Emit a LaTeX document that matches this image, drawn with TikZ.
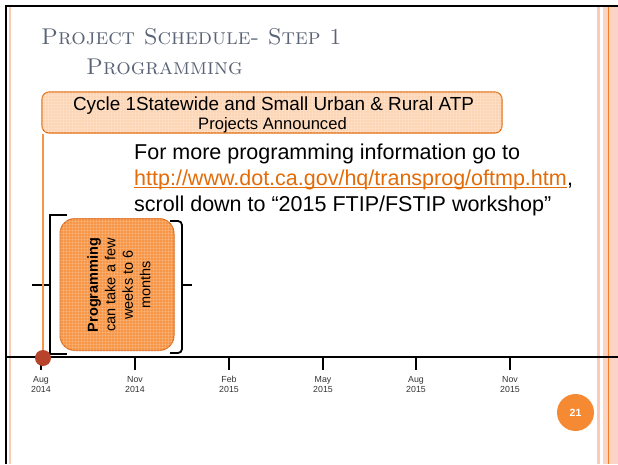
\documentclass[tikz,border=0pt]{standalone}
\usepackage{fontspec}
\newfontfamily\arial{Liberation Sans}
\usetikzlibrary{patterns}
\definecolor{peach}{HTML}{FCD5B5}
\definecolor{bordc}{HTML}{E26B0A}
\definecolor{progfill}{HTML}{F79646}
\definecolor{progbord}{HTML}{D9691C}
\definecolor{linkc}{HTML}{E36C09}
\definecolor{dotc}{HTML}{B8432B}
\definecolor{pagec}{HTML}{F68A33}
\definecolor{pinkA}{HTML}{FBC9B8}
\definecolor{pinkB}{HTML}{FDD3C4}
\definecolor{orline}{HTML}{F47B2A}
\definecolor{titlec}{HTML}{5A6475}
\definecolor{labc}{HTML}{333333}
\tikzset{
  titletext/.style={anchor=base west, inner sep=0, text=titlec, font=\fontsize{22.8}{28}\selectfont\scshape},
  bodytext/.style={anchor=base west, inner sep=0, font=\arial\fontsize{21.5}{26}\selectfont},
  bracketline/.style={line width=1.8, black},
  ticklab/.style={anchor=base, inner sep=0, text=labc, font=\arial\fontsize{8.8}{10}\selectfont},
  gridtex/.style={pattern=grid, pattern color=white, opacity=0.15},
}
\begin{document}
\begin{tikzpicture}[x=1pt,y=-1pt]
\useasboundingbox (0,0) rectangle (618,464);
\fill[white] (0,0) rectangle (618,464);
% right decorative band
\fill[pinkA] (597,7) rectangle (600,464);
\fill[pinkB] (603,7) rectangle (618,464);
\draw[orline, line width=1.2] (608.3,7) -- (608.3,464);
% left pink line
\fill[pinkA] (8.5,7) rectangle (11,464);
% black frame
\draw[line width=2.5] (5.75,464) -- (5.75,6) -- (618,6);
% title
\node[titletext] (t1) at (41,44) {Project Schedule- Step 1};
\node[titletext] (t2) at (86,74) {Programming};
% banner
\node[draw=bordc, fill=peach, line width=1.1, rounded corners=7, minimum width=460pt, minimum height=41pt, inner sep=0] (ban) at (272,112.5) {};
\fill[gridtex, rounded corners=7] (ban.south west) rectangle (ban.north east);
\node[anchor=base, inner sep=0, font=\arial\fontsize{18.9}{20}\selectfont] (b1) at (273.5,110) {Cycle 1Statewide and Small Urban \& Rural ATP};
\node[anchor=base, inner sep=0, font=\arial\fontsize{16.6}{18}\selectfont] (b2) at (272.5,129) {Projects Announced};
% body text
\node[bodytext] (l1) at (134,159) {For more programming information go to};
\node[bodytext, text=linkc] (url) at (134,185) {http://www.dot.ca.gov/hq/transprog/oftmp.htm};
\node[bodytext] (comma) at (url.base east) {,};
\draw[linkc, line width=1.1] ([yshift=-2.2pt]url.base west) -- ([yshift=-2.2pt]url.base east);
\node[bodytext] (l3) at (134,211) {scroll down to “2015 FTIP/FSTIP workshop”};
% timeline
\coordinate (tlA) at (5,357);
\coordinate (tlB) at (618,357);
\draw[line width=2] (tlA) -- (tlB);
\foreach \x/\m/\yr [count=\i] in {41/Aug/2014, 135/Nov/2014, 229/Feb/2015, 323/May/2015, 416/Aug/2015, 510/Nov/2015}{
  \coordinate (tk\i) at (\x,357);
  \draw[line width=2] (tk\i) -- ++(0,13);
  \node[ticklab] (m\i) at (\x,382) {\m};
  \node[ticklab] (y\i) at (\x,392) {\yr};
}
% brackets
\coordinate (lbA) at (67,215); \coordinate (lbB) at (50,215);
\coordinate (lbC) at (50,354); \coordinate (lbD) at (67,354);
\draw[bracketline] (lbA) -- (lbB) -- (lbC) -- (lbD);
\coordinate (lt1) at (32,285); \coordinate (lt2) at (50,285);
\draw[bracketline] (lt1) -- (lt2);
\coordinate (rbA) at (170,221); \coordinate (rbB) at (182,221);
\coordinate (rbC) at (182,353); \coordinate (rbD) at (170,353);
\draw[bracketline, rounded corners=4] (rbA) -- (rbB) -- (rbC) -- (rbD);
\coordinate (rt1) at (182,285); \coordinate (rt2) at (192,285);
\draw[bracketline] (rt1) -- (rt2);
% programming box
\node[draw=progbord, fill=progfill, line width=1, rounded corners=15, minimum width=114pt, minimum height=132pt, inner sep=0] (pbox) at (117,284.5) {};
\fill[gridtex, rounded corners=15] (pbox.south west) rectangle (pbox.north east);
\node[rotate=90, align=center, inner sep=0, font=\arial\fontsize{14.5}{17.5}\selectfont] (ptxt) at (119,285) {\textbf{Programming}\\can take a few\\weeks to 6\\months};
% start dot and vertical line
\node[circle, fill=dotc, minimum size=16pt, inner sep=0] (dot) at (43,358) {};
\coordinate (vtop) at (43,133.5);
\draw[progfill, line width=1.3] (vtop) -- (dot.north);
% page number
\node[circle, fill=pagec, minimum size=37pt, inner sep=0, text=white, font=\arial\bfseries\fontsize{10.5}{12}\selectfont] (pg) at (575.5,412.5) {21};
\end{tikzpicture}
\end{document}
